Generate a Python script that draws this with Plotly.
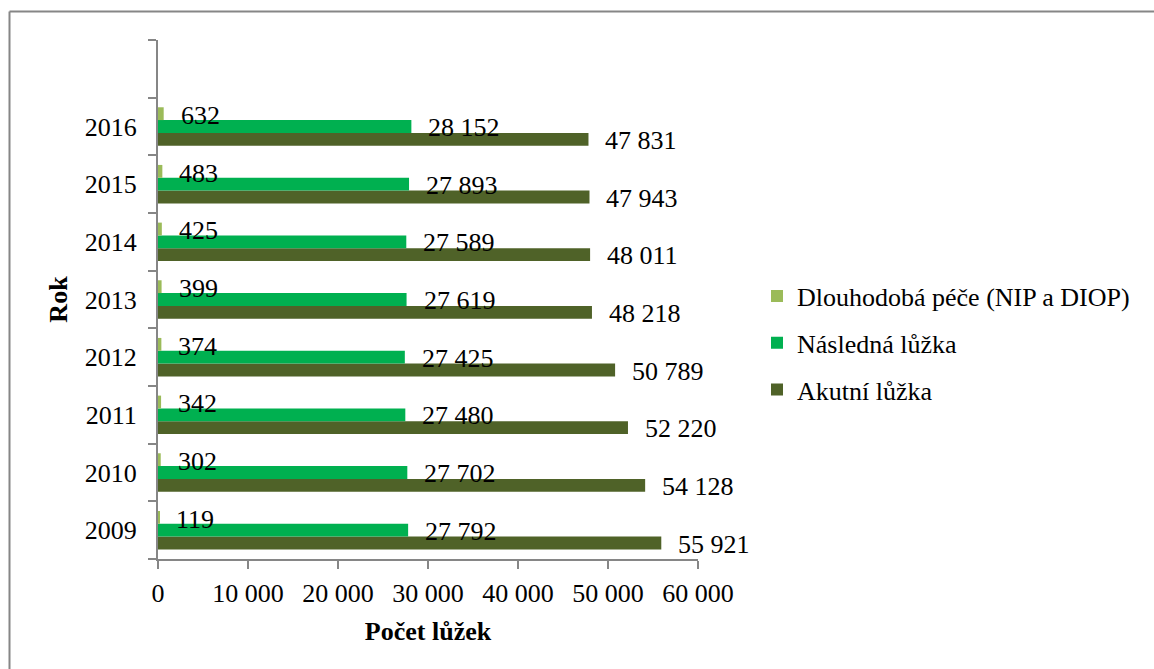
import plotly.graph_objects as go

# Hospital bed counts by year and type of care
years = ["2009", "2010", "2011", "2012", "2013", "2014", "2015", "2016"]
akutni = [55921, 54128, 52220, 50789, 48218, 48011, 47943, 47831]
nasledna = [27792, 27702, 27480, 27425, 27619, 27589, 27893, 28152]
dlouhodoba = [119, 302, 342, 374, 399, 425, 483, 632]

series_names = ["Akutní lůžka", "Následná lůžka", "Dlouhodobá péče (NIP a DIOP)"]
series_values = [akutni, nasledna, dlouhodoba]
series_colors = ["#4F6228", "#00B050", "#9BBB59"]
legend_ranks = [3, 2, 1]
label_yshift = [-14, -1, 11]

x_ticks = [0, 10000, 20000, 30000, 40000, 50000, 60000]

FONT = "Liberation Serif"
FS = 26
AXIS_COLOR = "#868686"


def fmt(v):
    return f"{v:,}".replace(",", " ")


fig = go.Figure()
annotations = []
for name, vals, color, rank, ys in zip(series_names, series_values, series_colors,
                                       legend_ranks, label_yshift):
    fig.add_trace(go.Bar(
        y=years, x=vals, name=name, orientation="h",
        marker=dict(color=color, line=dict(width=0)),
        legendgroup=name, legendrank=rank,
    ))
    # value labels placed just past the end of each bar (category axis uses index positions)
    for i, v in enumerate(vals):
        annotations.append(dict(
            x=v, y=i, xref="x", yref="y", text=fmt(v), showarrow=False,
            xanchor="left", yanchor="middle", xshift=15, yshift=ys,
            font=dict(family=FONT, size=FS, color="black"),
        ))

# Frame lines along the top and left edge of the chart area
shapes = [
    dict(type="line", xref="paper", yref="paper",
         x0=(9.5 - 158) / 540, x1=(1160 - 158) / 540,
         y0=(559 - 11.5) / 519, y1=(559 - 11.5) / 519,
         line=dict(color=AXIS_COLOR, width=2)),
    dict(type="line", xref="paper", yref="paper",
         x0=(9.5 - 158) / 540, x1=(9.5 - 158) / 540,
         y0=(559 - 11.5) / 519, y1=(559 - 680) / 519,
         line=dict(color=AXIS_COLOR, width=2)),
]

fig.update_layout(
    width=1154, height=669,
    margin=dict(l=158, r=456, t=40, b=110),
    paper_bgcolor="white", plot_bgcolor="white",
    barmode="group", bargap=0.333, bargroupgap=0,
    separators=", ",
    font=dict(family=FONT, size=FS, color="black"),
    annotations=annotations,
    shapes=shapes,
    showlegend=True,
    legend=dict(
        x=(757 - 158) / 540, y=(559 - 343) / 519, xanchor="left", yanchor="middle",
        traceorder="grouped", tracegroupgap=10,
        font=dict(family=FONT, size=FS, color="black"),
        itemclick=False, bgcolor="rgba(0,0,0,0)",
    ),
    xaxis=dict(
        range=[0, 60000], tickvals=x_ticks, tickformat=",d",
        showgrid=False, zeroline=False,
        showline=True, linecolor=AXIS_COLOR, linewidth=2,
        ticks="outside", ticklen=8, tickcolor=AXIS_COLOR, tickwidth=2,
        ticklabelstandoff=2,
        tickfont=dict(family=FONT, size=FS, color="black"),
        title=dict(text="<b>Počet lůžek</b>", standoff=15,
                   font=dict(family=FONT, size=FS, color="black")),
    ),
    yaxis=dict(
        type="category", categoryorder="array", categoryarray=years + [" "],
        range=[-0.5, 8.5], tickson="boundaries",
        showgrid=False, zeroline=False,
        showline=True, linecolor=AXIS_COLOR, linewidth=2,
        ticks="outside", ticklen=8, tickcolor=AXIS_COLOR, tickwidth=2,
        ticklabelstandoff=14,
        tickfont=dict(family=FONT, size=FS, color="black"),
        title=dict(text="<b>Rok</b>", standoff=10,
                   font=dict(family=FONT, size=FS, color="black")),
    ),
)

fig.write_html("out.html")
